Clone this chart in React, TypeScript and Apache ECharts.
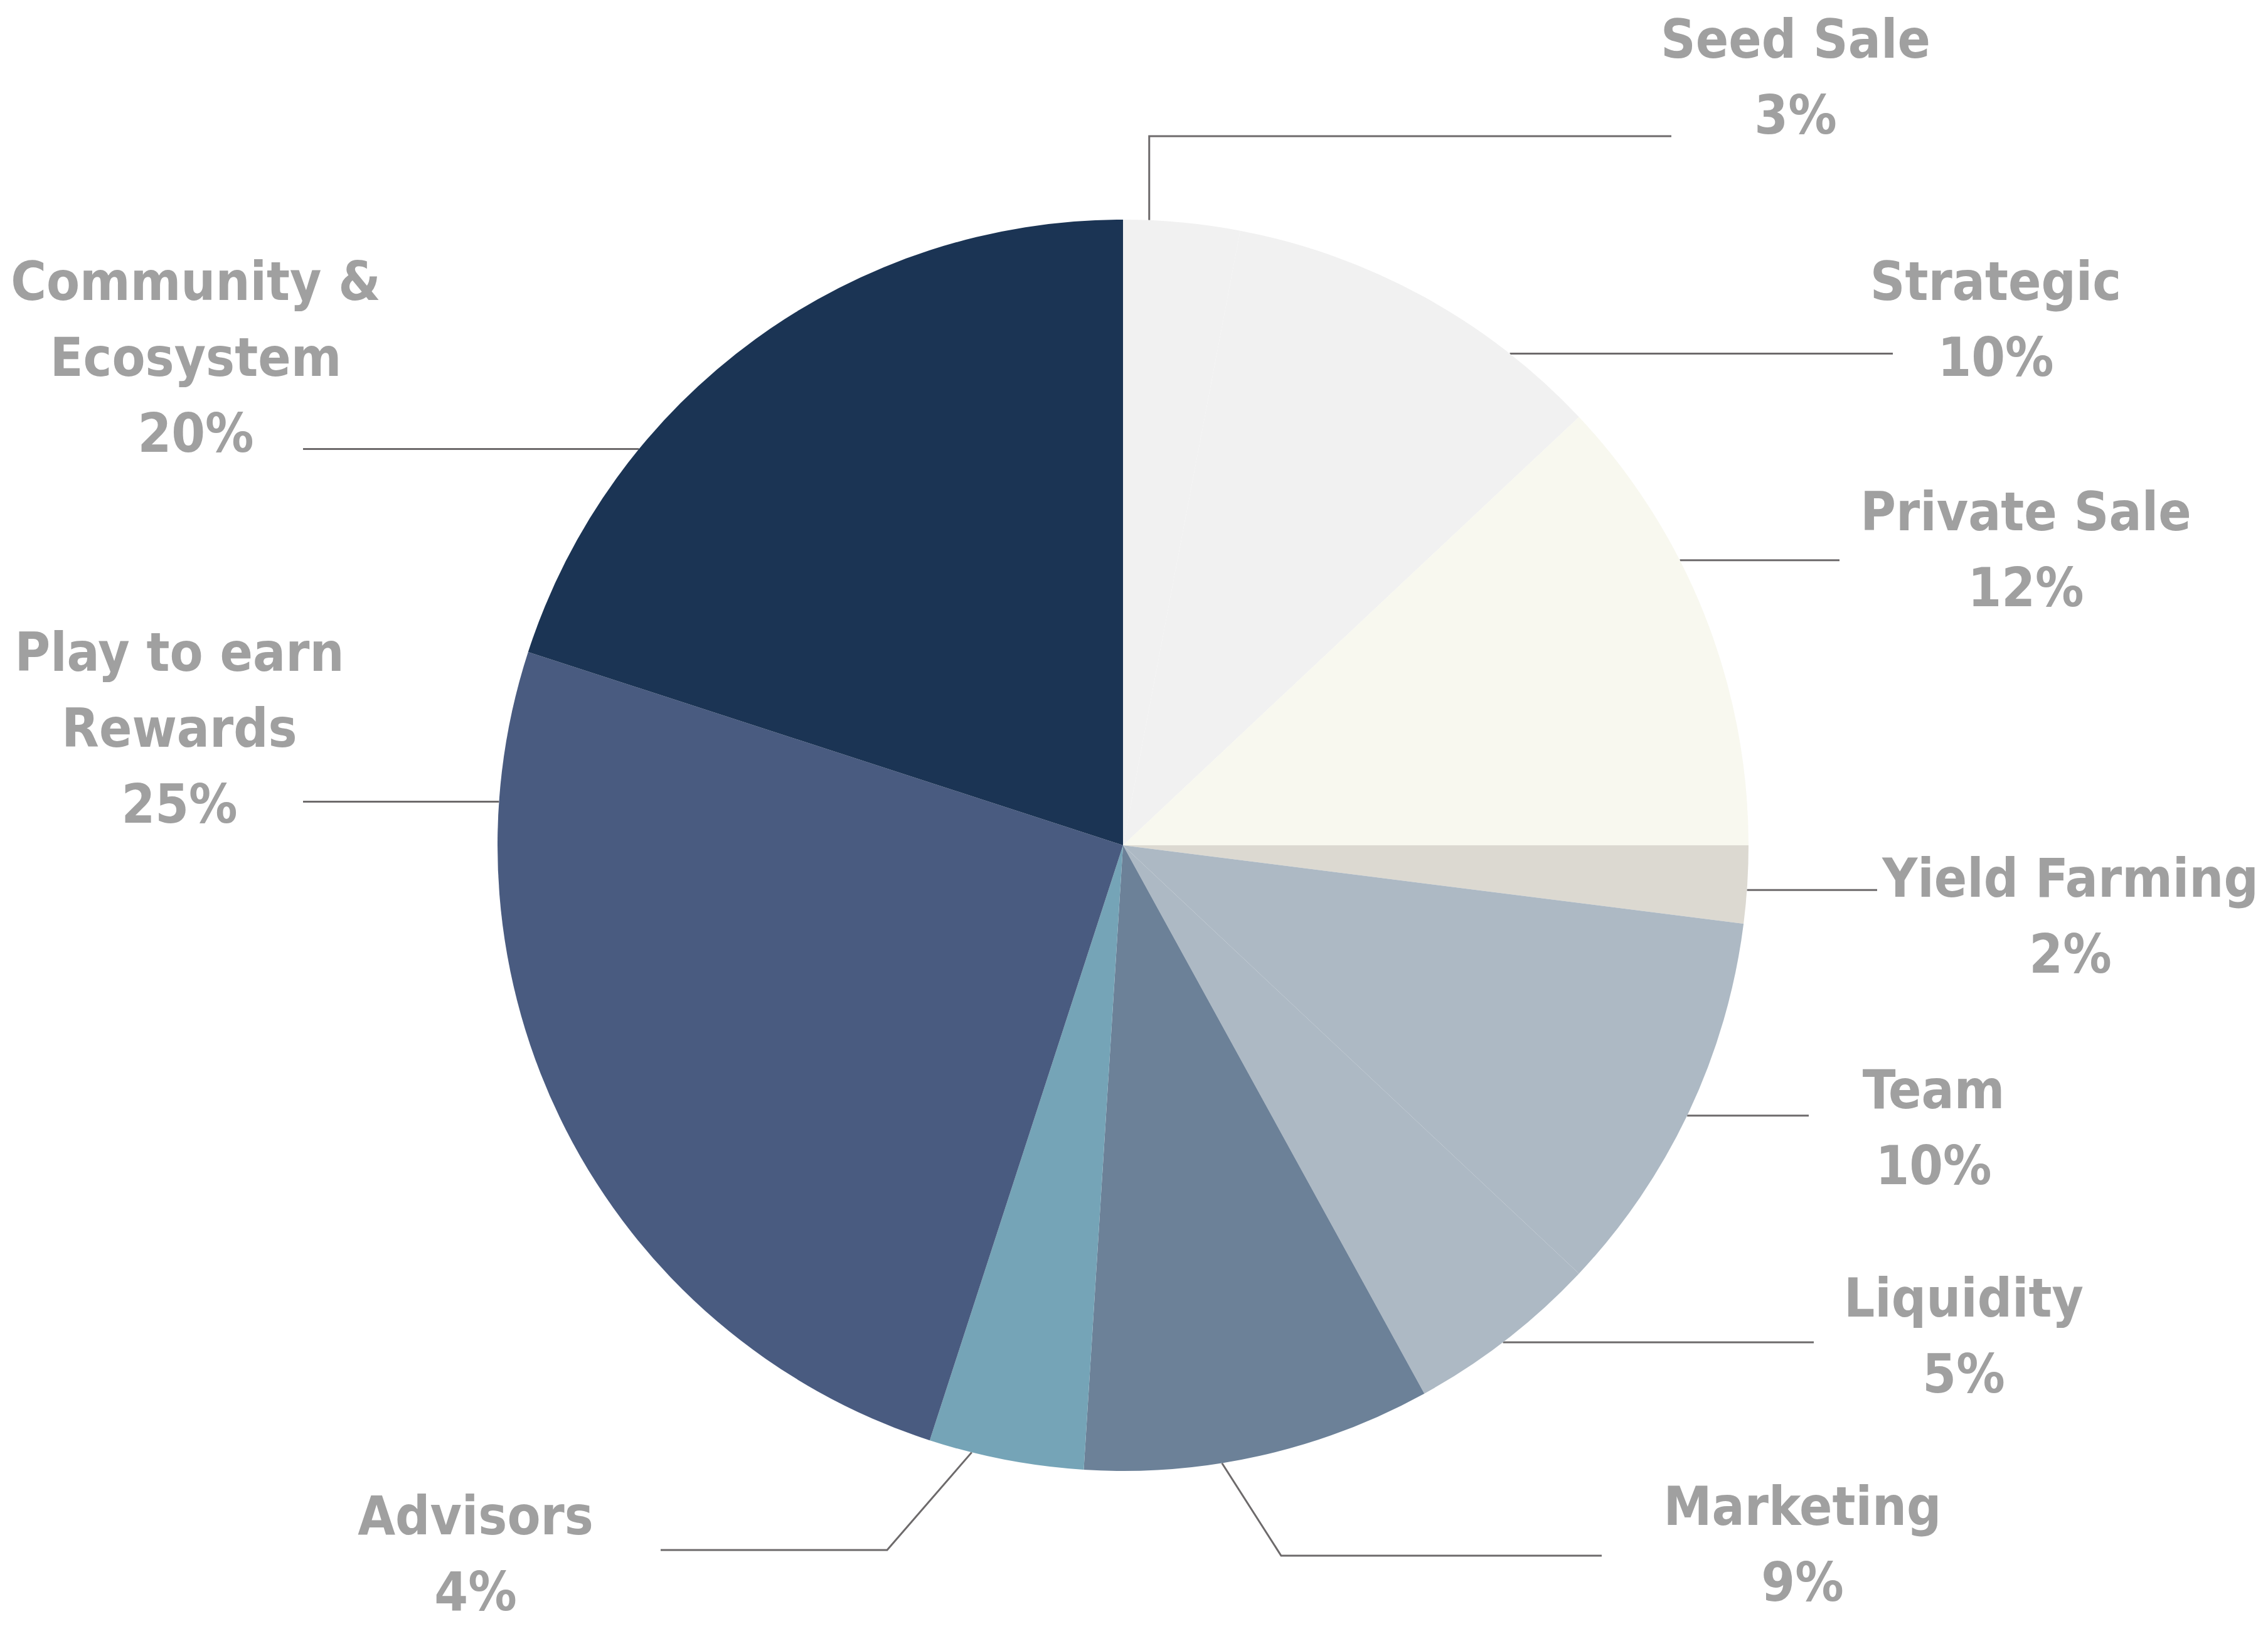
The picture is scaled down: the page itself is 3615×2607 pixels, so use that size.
import React, { useEffect, useRef } from 'react';
import * as echarts from 'echarts';

// ---- data ----
const categories = [
  'Seed Sale',
  'Strategic',
  'Private Sale',
  'Yield Farming',
  'Team',
  'Liquidity',
  'Marketing',
  'Advisors',
  'Play to earn\nRewards',
  'Community &\nEcosystem',
];
const shares = [3, 10, 12, 2, 10, 5, 9, 4, 25, 20];
const sliceColors = [
  '#f1f1f1', '#f1f1f1', '#f8f8ef', '#dcd9d1', '#adb9c4',
  '#adb9c4', '#6c8198', '#75a4b7', '#495b80', '#1b3454',
];

// ---- layout (pixels in the 3615x2607 frame) ----
const PIE_CENTER = [1790, 1347];
const PIE_RADIUS = 997;
const labelCenters = [
  [2862, 122], [3181, 508], [3229, 875], [3300, 1459], [3082, 1796],
  [3130, 2128], [2873, 2460], [758, 2475], [286, 1160], [312, 569],
];
// angle (deg, clockwise from 12 o'clock) where each leader line leaves the pie
const anchorAngles = [2.4, 38.2, 62.9, 94.1, 115.6, 142.6, 170.9, 194, 274, 309.3];
// optional knee point of the leader line (x null = same x as anchor)
const kneePoints: (null | [number | null, number])[] = [
  [null, 217], null, null, null, null, null, [2042, 2479], [1414, 2470], null, null,
];
const lineEndX = [2664, 3017, 2932, 2992, 2883, 2891, 2553, 1053, 483, 483];

const FONT = '"DejaVu Sans Condensed", "DejaVu Sans", sans-serif';

export default function App() {
  const ref = useRef<HTMLDivElement>(null);
  useEffect(() => {
    if (!ref.current) return;
    const chart = echarts.init(ref.current, undefined, { renderer: 'svg' });
    const data = categories.map((name, i) => ({
      name,
      value: shares[i],
      itemStyle: { color: sliceColors[i] },
    }));
    chart.setOption({
      animation: false,
      backgroundColor: '#ffffff',
      series: [
        {
          type: 'pie',
          center: PIE_CENTER,
          radius: PIE_RADIUS,
          startAngle: 90,
          clockwise: true,
          avoidLabelOverlap: false,
          silent: true,
          data,
          itemStyle: { borderWidth: 0 },
          label: {
            show: true,
            position: 'outer',
            formatter: (p: any) => `${p.name}\n${p.value}%`,
            color: '#a0a0a0',
            fontFamily: FONT,
            fontWeight: 'bold',
            fontSize: 86,
            lineHeight: 121,
            align: 'center',
          },
          labelLine: {
            show: true,
            length: 20,
            length2: 20,
            smooth: false,
            lineStyle: { color: '#6d6a6b', width: 3 },
          },
          labelLayout: (params: any) => {
            const i = params.dataIndex;
            const a = (anchorAngles[i] * Math.PI) / 180;
            const p0 = [
              PIE_CENTER[0] + PIE_RADIUS * Math.sin(a),
              PIE_CENTER[1] - PIE_RADIUS * Math.cos(a),
            ];
            const knee = kneePoints[i];
            let pts: number[][];
            if (knee) {
              const k = [knee[0] == null ? p0[0] : knee[0], knee[1]];
              pts = [p0, k, [lineEndX[i], k[1]]];
            } else {
              pts = [p0, [lineEndX[i], p0[1]]];
            }
            return {
              x: labelCenters[i][0],
              y: labelCenters[i][1],
              align: 'center',
              verticalAlign: 'middle',
              labelLinePoints: pts,
            };
          },
        },
      ],
    });
    return () => chart.dispose();
  }, []);
  return (
    <div
      ref={ref}
      style={{ position: 'absolute', left: 0, top: 0, width: 3615, height: 2607 }}
    />
  );
}
